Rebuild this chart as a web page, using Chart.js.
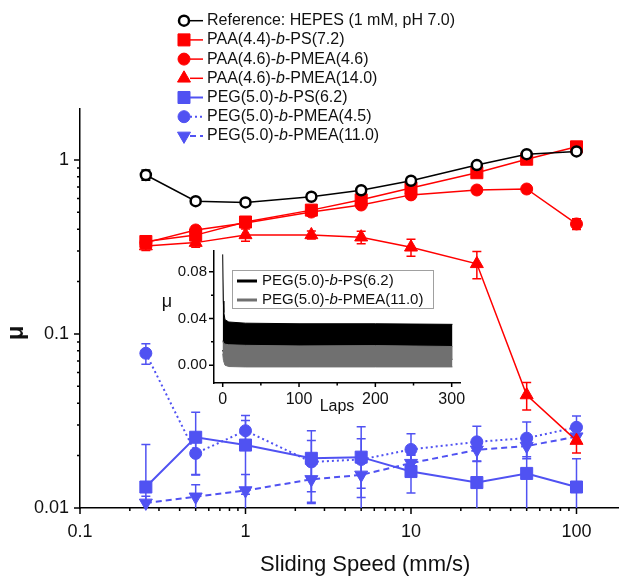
<!DOCTYPE html>
<html>
<head>
<meta charset="utf-8">
<script src="https://cdn.jsdelivr.net/npm/chart.js@4.4.1/dist/chart.umd.min.js"></script>
<style>
html, body { margin: 0; padding: 0; background: #fff; overflow: hidden; width: 619px; height: 578px; }
#wrap { position: relative; width: 660px; height: 578px; }
#main { position: absolute; left: 0; top: 0; }
#inset { position: absolute; left: 150px; top: 240px; }
</style>
</head>
<body>
<div id="wrap">
  <canvas id="main" width="660" height="578"></canvas>
  <canvas id="inset" width="320" height="185"></canvas>
</div>
<script>
const FONT = 'Arial, "Liberation Sans", sans-serif';

// main plot: friction coefficient vs sliding speed
const speeds = [0.25, 0.5, 1, 2.5, 5, 10, 25, 50, 100];

const refHepes      = [0.82, 0.58, 0.57, 0.615, 0.67, 0.76, 0.935, 1.08, 1.12];
const refHepesErr   = [0.055, 0.02, 0.02, 0.02, 0.02, 0.02, 0.03, 0.03, 0.04];
const paaPs         = [0.34, 0.37, 0.44, 0.515, 0.59, 0.69, 0.845, 1.01, 1.19];
const paaPsErr      = [0.02, 0.02, 0.02, 0.02, 0.02, 0.02, 0.03, 0.03, 0.04];
const paaPmea46     = [0.335, 0.396, 0.434, 0.502, 0.551, 0.63, 0.672, 0.681, 0.429];
const paaPmea46Err  = [0.02, 0.02, 0.02, 0.02, 0.02, 0.03, 0.03, 0.03, 0.03];
const paaPmea140    = [0.32, 0.335, 0.371, 0.371, 0.36, 0.315, 0.253, 0.0446, 0.0244];
const paaPmea140Err = [0.018, 0.02, 0.03, 0.02, 0.03, 0.035, 0.045, 0.008, 0.0037];
const pegPs         = [0.0132, 0.0255, 0.023, 0.0193, 0.0196, 0.0162, 0.014, 0.0158, 0.0132];
const pegPsErr      = [0.01, 0.01, 0.011, 0.0085, 0.0097, 0.004, 0.008, 0.01, 0.006];
const pegPmea45     = [0.0775, 0.0206, 0.0278, 0.0184, 0.019, 0.0217, 0.024, 0.0252, 0.0291];
const pegPmea45Err  = [0.0105, 0.005, 0.004, 0.006, 0.006, 0.005, 0.0055, 0.006, 0.0047];
const pegPmea110    = [0.0107, 0.0116, 0.0126, 0.0146, 0.0155, 0.0181, 0.0216, 0.0227, 0.0257];
const pegPmea110Err = [0.001, 0.002, 0.003, 0.004, 0.004, 0.002, 0.003, 0.003, 0.002];

const seriesNames = [
  'Reference: HEPES (1 mM, pH 7.0)',
  'PAA(4.4)-b-PS(7.2)',
  'PAA(4.6)-b-PMEA(4.6)',
  'PAA(4.6)-b-PMEA(14.0)',
  'PEG(5.0)-b-PS(6.2)',
  'PEG(5.0)-b-PMEA(4.5)',
  'PEG(5.0)-b-PMEA(11.0)'
];

// inset: friction trace vs laps, drawn as envelope bands
const lapsPs        = [0, 0.8, 1.5, 3, 8, 30, 100, 200, 301];
const psUpper       = [0.095, 0.055, 0.045, 0.039, 0.037, 0.036, 0.0355, 0.0355, 0.035];
const psLower       = [0.013, 0.011, 0.009, 0.007, 0.005, 0.005, 0.005, 0.005, 0.005];
const lapsPmea      = [0, 1, 3, 8, 30, 100, 200, 301];
const pmeaUpper     = [0.021, 0.019, 0.018, 0.0175, 0.017, 0.0165, 0.0168, 0.016];
const pmeaLower     = [0.010, 0.004, 0.000, -0.0012, -0.0015, -0.0015, -0.0015, -0.0015];
const insetNames    = ['PEG(5.0)-b-PS(6.2)', 'PEG(5.0)-b-PMEA(11.0)'];

const RED = '#ff0000';
const BLUE = '#5052f2';
const GREY = '#707070';

function pts(xs, ys) {
  return xs.map((x, i) => ({ x: x, y: ys[i] }));
}

function series(label, vals, errs, color, style, radius, extra) {
  return Object.assign({
    label: label,
    data: pts(speeds, vals),
    errs: errs,
    borderColor: color,
    backgroundColor: color,
    borderWidth: 1.5,
    pointStyle: style,
    pointRadius: radius,
    pointBackgroundColor: color,
    pointBorderColor: color,
    pointBorderWidth: 1,
    tension: 0,
    clip: false
  }, extra || {});
}

function drawName(ctx, name, x, y, size) {
  ctx.textBaseline = 'middle';
  ctx.textAlign = 'left';
  ctx.fillStyle = '#111';
  const parts = name.split('-b-');
  if (parts.length < 2) {
    ctx.font = size + 'px ' + FONT;
    ctx.fillText(name, x, y);
    return;
  }
  const segs = [[parts[0] + '-', ''], ['b', 'italic '], ['-' + parts[1], '']];
  for (const s of segs) {
    ctx.font = s[1] + size + 'px ' + FONT;
    ctx.fillText(s[0], x, y);
    x += ctx.measureText(s[0]).width;
  }
}

function isDecade(v) {
  const lg = Math.log10(v);
  return Math.abs(lg - Math.round(lg)) < 1e-6;
}

function decadeLabel(v) {
  return isDecade(v) ? String(parseFloat(v.toPrecision(6))) : '';
}

function logTickList(scale) {
  return scale.ticks.map(t => t.value).filter(v => {
    const sig = v / Math.pow(10, Math.floor(Math.log10(v) + 1e-9));
    return Math.abs(sig - Math.round(sig)) < 1e-6;
  });
}

const mainDecor = {
  id: 'mainDecor',
  beforeDatasetsDraw(chart) {
    const ctx = chart.ctx;
    const ys = chart.scales.y;
    const area = chart.chartArea;
    ctx.save();
    ctx.beginPath();
    ctx.rect(area.left - 10, area.top, area.right - area.left + 20, area.bottom - area.top);
    ctx.clip();
    chart.data.datasets.forEach((ds, i) => {
      const meta = chart.getDatasetMeta(i);
      ctx.strokeStyle = ds.borderColor;
      ctx.lineWidth = 1.5;
      ctx.setLineDash([]);
      meta.data.forEach((p, j) => {
        const v = ds.data[j].y, e = ds.errs[j];
        const top = ys.getPixelForValue(v + e);
        const bot = ys.getPixelForValue(Math.max(v - e, 1e-4));
        ctx.beginPath();
        ctx.moveTo(p.x, top); ctx.lineTo(p.x, bot);
        ctx.moveTo(p.x - 4.5, top); ctx.lineTo(p.x + 4.5, top);
        ctx.moveTo(p.x - 4.5, bot); ctx.lineTo(p.x + 4.5, bot);
        ctx.stroke();
      });
    });
    ctx.restore();
  },
  afterDraw(chart) {
    const ctx = chart.ctx;
    const xs = chart.scales.x, ys = chart.scales.y;
    const area = chart.chartArea;
    ctx.save();
    ctx.strokeStyle = '#000';
    ctx.lineWidth = 1.5;
    ctx.beginPath();
    logTickList(xs).forEach(v => {
      const px = xs.getPixelForValue(v);
      const len = isDecade(v) ? 6 : 3;
      ctx.moveTo(px, area.bottom); ctx.lineTo(px, area.bottom + len);
    });
    logTickList(ys).forEach(v => {
      const py = ys.getPixelForValue(v);
      const len = isDecade(v) ? 6 : 3;
      ctx.moveTo(area.left, py); ctx.lineTo(area.left - len, py);
    });
    ctx.stroke();

    // y title
    ctx.save();
    ctx.translate(16, 333);
    ctx.rotate(-Math.PI / 2);
    ctx.fillStyle = '#111';
    ctx.font = 'bold 24px ' + FONT;
    ctx.textAlign = 'center';
    ctx.textBaseline = 'middle';
    ctx.fillText('\u03bc', 0, 0);
    ctx.restore();

    // legend
    chart.data.datasets.forEach((ds, i) => {
      const y = 20.7 + i * 19.2;
      ctx.strokeStyle = ds.borderColor;
      ctx.lineWidth = ds.borderWidth;
      ctx.setLineDash(ds.borderDash || []);
      ctx.beginPath();
      ctx.moveTo(190, y); ctx.lineTo(203, y);
      ctx.stroke();
      ctx.setLineDash([]);
      ctx.fillStyle = ds.pointBackgroundColor;
      ctx.strokeStyle = ds.pointBorderColor;
      ctx.lineWidth = ds.pointBorderWidth;
      Chart.helpers.drawPoint(ctx, {
        pointStyle: ds.pointStyle,
        radius: ds.pointRadius,
        rotation: ds.pointRotation || 0,
        borderWidth: ds.pointBorderWidth
      }, 184, y);
      drawName(ctx, seriesNames[i], 207, y, 16);
    });
    ctx.restore();
  }
};

new Chart(document.getElementById('main'), {
  type: 'line',
  data: {
    datasets: [
      series(seriesNames[0], refHepes, refHepesErr, '#000', 'circle', 5,
        { pointBackgroundColor: '#fff', pointBorderColor: '#000', pointBorderWidth: 2.5 }),
      series(seriesNames[1], paaPs, paaPsErr, RED, 'rect', 8.5),
      series(seriesNames[2], paaPmea46, paaPmea46Err, RED, 'circle', 6),
      series(seriesNames[3], paaPmea140, paaPmea140Err, RED, 'triangle', 7.5),
      series(seriesNames[4], pegPs, pegPsErr, BLUE, 'rect', 8.5, { borderWidth: 2 }),
      series(seriesNames[5], pegPmea45, pegPmea45Err, BLUE, 'circle', 6, { borderWidth: 2, borderDash: [2, 3] }),
      series(seriesNames[6], pegPmea110, pegPmea110Err, BLUE, 'triangle', 7.5,
        { borderWidth: 2, borderDash: [6, 4], pointRotation: 180 })
    ]
  },
  options: {
    responsive: false,
    animation: false,
    devicePixelRatio: 1,
    layout: { padding: { left: 0, right: 6, top: 109, bottom: 0 } },
    plugins: { legend: { display: false }, tooltip: { enabled: false } },
    scales: {
      x: {
        type: 'logarithmic',
        min: 0.1,
        max: 280,
        border: { display: true, color: '#000', width: 1.5 },
        grid: { drawOnChartArea: false, color: 'transparent', tickLength: 6 },
        ticks: { autoSkip: false, maxRotation: 0, padding: 7, color: '#111', font: { size: 18, family: FONT }, callback: decadeLabel },
        title: { display: true, text: 'Sliding Speed (mm/s)', color: '#111', font: { size: 22, family: FONT }, padding: 0 },
        afterFit(s) { s.height = 70; }
      },
      y: {
        type: 'logarithmic',
        min: 0.01,
        max: 1.963,
        border: { display: true, color: '#000', width: 1.5 },
        grid: { drawOnChartArea: false, color: 'transparent', tickLength: 6 },
        ticks: { autoSkip: false, padding: 5, color: '#111', font: { size: 18, family: FONT }, callback: decadeLabel },
        afterFit(s) { s.width = 80; }
      }
    }
  },
  plugins: [mainDecor]
});

const insetDecor = {
  id: 'insetDecor',
  afterDraw(chart) {
    const ctx = chart.ctx;
    const xs = chart.scales.x, ys = chart.scales.y;
    const area = chart.chartArea;
    ctx.save();
    ctx.strokeStyle = '#000';
    ctx.lineWidth = 1.5;
    ctx.beginPath();
    [0, 50, 100, 150, 200, 250, 300].forEach(v => {
      const px = xs.getPixelForValue(v);
      const len = v % 100 === 0 ? 4 : 2.5;
      ctx.moveTo(px, area.bottom); ctx.lineTo(px, area.bottom + len);
    });
    [0, 0.02, 0.04, 0.06, 0.08].forEach((v, k) => {
      const py = ys.getPixelForValue(v);
      const len = k % 2 === 0 ? 5 : 3;
      ctx.moveTo(area.left, py); ctx.lineTo(area.left - len, py);
    });
    ctx.stroke();

    ctx.fillStyle = '#111';
    ctx.textAlign = 'center';
    ctx.textBaseline = 'middle';
    ctx.font = '18px ' + FONT;
    ctx.fillText('\u03bc', 17, 62);
    ctx.font = '16px ' + FONT;
    ctx.fillText('Laps', (area.left + area.right) / 2, 167);

    // inset legend box
    ctx.fillStyle = '#fff';
    ctx.fillRect(82, 30, 201, 38);
    ctx.strokeStyle = '#a0a0a0';
    ctx.lineWidth = 1;
    ctx.strokeRect(82.5, 30.5, 201, 38);
    const cols = ['#000', GREY];
    insetNames.forEach((n, i) => {
      const y = 41 + i * 19;
      ctx.strokeStyle = cols[i];
      ctx.lineWidth = 3;
      ctx.beginPath();
      ctx.moveTo(87, y); ctx.lineTo(107, y);
      ctx.stroke();
      drawName(ctx, n, 112, y, 15);
    });
    ctx.restore();
  }
};

function band(xs, ys, color, fill) {
  return {
    data: pts(xs, ys),
    borderColor: color,
    backgroundColor: color,
    borderWidth: 1,
    pointRadius: 0,
    tension: 0,
    fill: fill
  };
}

new Chart(document.getElementById('inset'), {
  type: 'line',
  data: {
    datasets: [
      band(lapsPmea, pmeaUpper, GREY, '+1'),
      band(lapsPmea, pmeaLower, GREY, false),
      band(lapsPs, psUpper, '#000', '+1'),
      band(lapsPs, psLower, '#000', false)
    ]
  },
  options: {
    responsive: false,
    animation: false,
    devicePixelRatio: 1,
    layout: { padding: { left: 0, right: 10, top: 10, bottom: 0 } },
    plugins: { legend: { display: false }, tooltip: { enabled: false } },
    scales: {
      x: {
        type: 'linear',
        min: -11.4,
        max: 310.9,
        border: { display: true, color: '#000', width: 1.5 },
        grid: { drawOnChartArea: false, color: 'transparent', tickLength: 4 },
        ticks: { stepSize: 100, includeBounds: false, maxRotation: 0, padding: 3, color: '#111', font: { size: 16, family: FONT } },
        afterFit(s) { s.height = 42; }
      },
      y: {
        type: 'linear',
        min: -0.0153,
        max: 0.0979,
        border: { display: true, color: '#000', width: 1.5 },
        grid: { drawOnChartArea: false, color: 'transparent', tickLength: 5 },
        ticks: { stepSize: 0.04, includeBounds: false, padding: 2, color: '#111', font: { size: 15, family: FONT },
          callback: v => v.toFixed(2) },
        afterFit(s) { s.width = 64; }
      }
    }
  },
  plugins: [insetDecor]
});
</script>
</body>
</html>
